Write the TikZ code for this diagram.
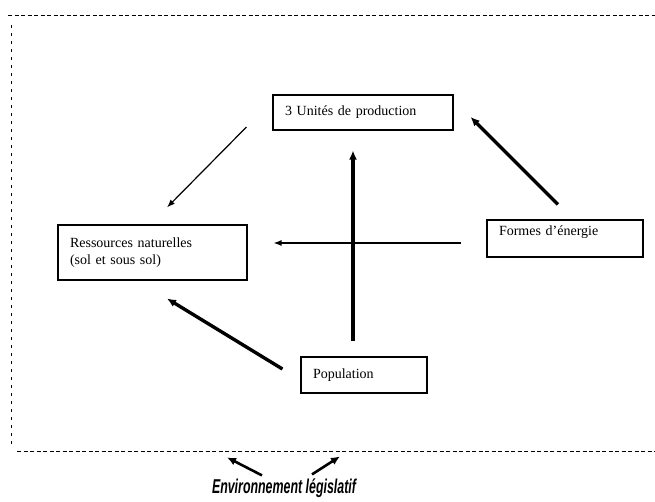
\documentclass[tikz,border=0pt]{standalone}
\usepackage{fontspec}
\setmainfont{Liberation Serif}
\newfontfamily\envfont{Liberation Sans}
\usetikzlibrary{arrows.meta,calc}

\begin{document}
\begin{tikzpicture}[x=1pt, y=-1pt, >={Latex[length=9pt,width=8pt]},
    boite/.style={draw, line width=1.1pt, inner xsep=12pt, inner ysep=0pt, align=left,
        font=\fontsize{14}{17}\selectfont},
    fine/.style={line width=1.2pt, ->, >={Latex[length=8pt,width=6pt]}},
    grasse/.style={line width=3.4pt, ->}]

        \useasboundingbox (0,0) rectangle (655,501);

        % cadre en tirets
        \begin{scope}[line width=0.8pt]
        \draw[dash pattern=on 4pt off 2.5pt] (8,15) -- (655,15);
        \draw[dash pattern=on 3pt off 5pt] (11,25) -- (11,448);
        \draw[dash pattern=on 4pt off 2.5pt] (17,451) -- (655,451);
        \end{scope}

        \node[boite, minimum width=180pt, minimum height=35pt, text width=156pt] (prod) at (363,112.5) {3 Unités de production};
        \node[boite, minimum width=189pt, minimum height=55pt, text width=165pt] (ress) at (152.5,252.5) {Ressources naturelles\\(sol et sous sol)};
        \node[boite, minimum width=156pt, minimum height=37pt, text width=132pt, text depth=15pt] (energie) at (565,238.5) {Formes d'énergie};
        \node[boite, minimum width=126pt, minimum height=36pt, text width=102pt] (pop) at (364,375) {Population};

        \node[font=\envfont\bfseries\itshape\fontsize{20}{20}\selectfont, xscale=0.62, inner sep=0pt] (env) at (284,488) {Environnement législatif};

        \draw[fine] ($(prod.west)+(-26,14.5)$) -- ($(ress.north)+(14.5,-17)$);
        \draw[fine] ($(energie.west)+(-25,4.5)$) -- ($(ress.east)+(26,-9.5)$);

        \begin{scope}[grasse]
        \draw ($(energie.north)+(-7,-15)$) -- ($(prod.east)+(17,4.5)$);
        \draw ($(pop.north)+(-11,-15)$) -- ($(prod.south)+(-10,20)$);
        \draw ($(pop.west)+(-18,-6)$) -- ($(ress.south)+(14.5,18)$);
        \end{scope}

        \begin{scope}[line width=2.6pt, ->]
        \draw ($(env.north)+(-22,-3)$) -- ++(-35,-18);
        \draw ($(env.north)+(28,-4)$) -- ++(28,-18);
        \end{scope}

\end{tikzpicture}
\end{document}
